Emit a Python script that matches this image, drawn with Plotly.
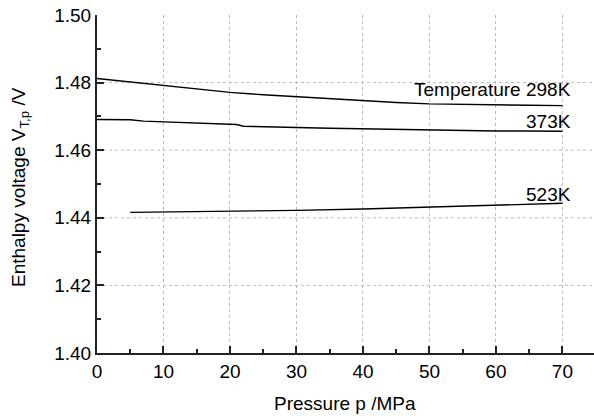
import plotly.graph_objects as go

# Data
p_298 = [0, 5, 10, 15, 20, 25, 30, 35, 40, 45, 50, 55, 60, 65, 70]
v_298 = [1.4812, 1.4802, 1.4792, 1.4781, 1.4771, 1.4764, 1.4758, 1.4752, 1.4746, 1.4741, 1.4737, 1.4735, 1.4734, 1.4733, 1.4732]

p_373 = [0, 5, 7, 10, 15, 20, 21, 22, 25, 30, 35, 40, 45, 50, 55, 60, 65, 70]
v_373 = [1.4691, 1.4690, 1.4686, 1.4684, 1.4681, 1.4677, 1.4676, 1.4671, 1.4669, 1.4667, 1.4665, 1.4663, 1.4661, 1.4659, 1.4658, 1.4657, 1.4657, 1.4656]

p_523 = [5, 10, 20, 30, 40, 50, 60, 70]
v_523 = [1.4416, 1.4417, 1.4419, 1.4422, 1.4426, 1.4431, 1.4437, 1.4443]

labels = ["Temperature 298K", "373K", "523K"]
label_y = [1.4781, 1.4684, 1.4469]

x_ticks = [0, 10, 20, 30, 40, 50, 60, 70]
y_ticks = [1.40, 1.42, 1.44, 1.46, 1.48, 1.50]
y_grid = [1.42, 1.44, 1.46, 1.48]

L, R, T, B = 97, 0, 15, 65
W, H = 594, 418
pw, ph = W - L - R, H - T - B

fig = go.Figure()
for px, vy in [(p_298, v_298), (p_373, v_373), (p_523, v_523)]:
    fig.add_trace(go.Scatter(x=px, y=vy, mode="lines",
                             line=dict(color="black", width=1.4),
                             showlegend=False, hoverinfo="skip"))

for t, ly in zip(labels, label_y):
    fig.add_annotation(x=71.6, y=ly, text=t, showarrow=False,
                       xanchor="right", yanchor="middle",
                       font=dict(size=19, color="black"))

for gy in y_grid:
    fig.add_shape(type="line", xref="paper", yref="y", x0=0, x1=1, y0=gy, y1=gy,
                  line=dict(color="#bbbbbb", width=1, dash="dot"), layer="below")

# axis titles
fig.add_annotation(xref="paper", yref="paper", x=(345 - L) / pw, y=-(403 - (T + ph)) / ph,
                   text="Pressure p /MPa", showarrow=False, xanchor="center", yanchor="middle",
                   font=dict(size=19, color="black"))
fig.add_annotation(xref="paper", yref="paper", x=(20 - L) / pw, y=1 - (187 - T) / ph,
                   text="Enthalpy voltage V<sub>T,p</sub> /V", showarrow=False, textangle=-90,
                   xanchor="center", yanchor="middle",
                   font=dict(size=19, color="black"))

font = "Liberation Sans, Arial, sans-serif"
fig.update_layout(
    width=W, height=H,
    margin=dict(l=L, r=R, t=T, b=B, autoexpand=False),
    plot_bgcolor="white", paper_bgcolor="white",
    font=dict(family=font, size=19, color="black"),
    xaxis=dict(range=[0, 74.75], tickvals=x_ticks, ticks="inside", ticklen=7,
               tickwidth=1.5, tickcolor="#222", automargin=False,
               showline=True, linecolor="#222", linewidth=2,
               showgrid=True, gridcolor="#bbbbbb", griddash="dot", gridwidth=1,
               zeroline=False,
               minor=dict(dtick=5, ticks="inside", ticklen=4, tickcolor="#222", showgrid=False)),
    yaxis=dict(range=[1.40, 1.50], tickvals=y_ticks, tickformat=".2f",
               ticks="inside", ticklen=7, tickwidth=1.5, tickcolor="#222", automargin=False,
               showline=True, linecolor="#222", linewidth=2,
               showgrid=False, zeroline=False,
               minor=dict(dtick=0.01, ticks="inside", ticklen=4, tickcolor="#222", showgrid=False)),
)

fig.write_html("out.html", config={"displayModeBar": False},
               post_script="document.body.style.margin='0';")
